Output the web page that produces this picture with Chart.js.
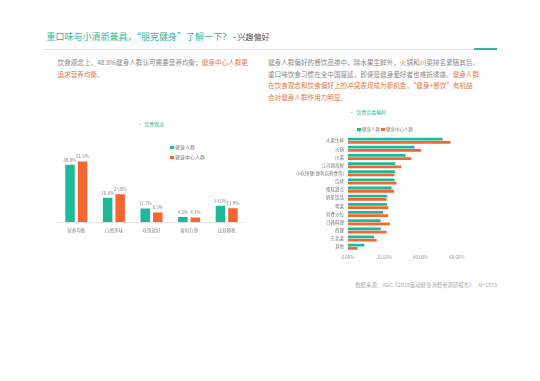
<!DOCTYPE html>
<html>
<head>
<meta charset="utf-8">
<script src="https://cdn.jsdelivr.net/npm/chart.js@4"></script>
<style>
    body { margin: 0; width: 540px; height: 381px; background: #fff; position: relative; overflow: hidden; font-family: "Noto Sans CJK SC", sans-serif; }
    .abs { position: absolute; white-space: nowrap; }
    .title { left: 46.6px; top: 31px; font-size: 9px; line-height: 12px; color: #2fb99c; }
    .title .sub { font-size: 8px; color: #555; }
    .para { font-size: 6.6px; line-height: 11.7px; color: #8a8a8a; }
    .hl { color: #e9784a; }
    .ctitle { font-size: 5px; line-height: 6px; color: #2fb99c; }
    .leg { font-size: 5px; line-height: 6px; color: #777; }
    .sq { display: inline-block; width: 3.5px; height: 3.5px; margin-right: 1.5px; vertical-align: 0px; }
    .foot { font-size: 5.4px; line-height: 7px; color: #aaa; }
    canvas { position: absolute; }
</style>
</head>
<body>
<div class="abs title">重口味与小清新兼具，“朋克健身”了解一下？<span class="sub"> - 兴趣偏好</span></div>
<div class="abs" style="left:44px;top:49px;width:453px;height:1px;background:#cdebe3;"></div>
<div class="abs" style="left:474px;top:47.5px;width:23px;height:2px;background:#2fb99c;"></div>

<div class="abs para" style="left:57.6px;top:57.2px;">饮食观念上，48.8%健身人群认可需要营养均衡；<span class="hl">健身中心人群更</span><br><span class="hl">追求营养均衡。</span></div>
<div class="abs para" style="left:268px;top:56.9px;">健身人群偏好的餐饮品类中，除水果生鲜外，火锅和川菜排名紧随其后。<br>重口味饮食习惯在全中国蔓延，即便是健身爱好者也难抵诱惑。<span class="hl">健身人群</span><br><span class="hl">在饮食观念和饮食偏好上的冲突表现成为新机会，“健身+餐饮”有机结</span><br><span class="hl">合对健身人群作用力明显。</span></div>

<div class="abs ctitle" style="left:137px;top:121px;">•&nbsp;&nbsp;饮食观念</div>
<div class="abs leg" style="left:170px;top:144px;"><span class="sq" style="background:#1fb89b"></span>健身人群</div>
<div class="abs leg" style="left:170px;top:154.3px;"><span class="sq" style="background:#f56530"></span>健身中心人群</div>

<div class="abs ctitle" style="left:349px;top:109px;">•&nbsp;&nbsp;饮食品类偏好</div>
<div class="abs leg" style="left:357px;top:126.3px;font-size:4.5px;"><span class="sq" style="background:#1fb89b"></span>健身人群&nbsp;<span class="sq" style="background:#f56530"></span>健身中心人群</div>

<div class="abs foot" style="right:43px;top:282px;">数据来源：IIGC《2018运动健身消费者调研报告》&nbsp;&nbsp;&nbsp;N=1573</div>

<canvas id="viewChart" width="220" height="110" style="left:40px;top:140px;"></canvas>
<canvas id="foodChart" width="210" height="145" style="left:280px;top:120px;"></canvas>

<script>
// series shared by both charts
const seriesNames = ['健身人群', '健身中心人群'];
const TEAL = '#1fb89b';
const ORANGE = '#f56530';

// 饮食观念 (%)
const viewCategories = ['营养均衡', '口感美味', '吃饱就好', '省时方便', '比较随机'];
const viewAll = [48.8, 20.8, 11.7, 4.5, 14.0];
const viewCenter = [51.5, 23.8, 8.3, 4.1, 11.9];

// 饮食品类偏好 (%)
const foodCategories = ['水果生鲜', '火锅', '川菜', '江河湖海鲜', '小吃快餐(便利店熟食等)', '烧烤', '蛋糕甜点', '奶茶饮品', '粤菜', '轻食沙拉', '日韩料理', '西餐', '东北菜', '其他'];
const foodAll = [52.1, 36.6, 31.7, 26.0, 26.0, 25.6, 24.0, 21.7, 21.5, 19.3, 18.0, 18.0, 14.4, 9.0];
const foodCenter = [56.4, 40.2, 34.9, 29.3, 25.6, 26.7, 25.3, 21.2, 22.2, 22.0, 23.1, 21.2, 15.8, 5.3];
const foodTicks = [0, 20, 40, 60];

Chart.defaults.font.family = '"Noto Sans CJK SC", sans-serif';

// value labels above the left bars
const barLabels = {
    id: 'barLabels',
    afterDatasetsDraw(chart) {
        const ctx = chart.ctx;
        ctx.save();
        ctx.font = '4.5px "Noto Sans CJK SC"';
        ctx.fillStyle = '#888';
        ctx.textAlign = 'center';
        ctx.textBaseline = 'bottom';
        chart.data.datasets.forEach((ds, i) => {
            chart.getDatasetMeta(i).data.forEach((bar, j) => {
                ctx.fillText(ds.data[j].toFixed(1) + '%', bar.x, bar.y - 2.5);
            });
        });
        ctx.restore();
    }
};

new Chart(document.getElementById('viewChart'), {
    type: 'bar',
    data: {
        labels: viewCategories,
        datasets: [
            { label: seriesNames[0], data: viewAll, backgroundColor: TEAL },
            { label: seriesNames[1], data: viewCenter, backgroundColor: ORANGE }
        ]
    },
    plugins: [barLabels],
    options: {
        responsive: false,
        animation: false,
        layout: { padding: { left: 17.5, right: 14.5, top: 11.5, bottom: 11.7 } },
        datasets: { bar: { categoryPercentage: 0.665, barPercentage: 0.76 } },
        plugins: { legend: { display: false }, tooltip: { enabled: false } },
        scales: {
            x: {
                grid: { display: false, drawTicks: false },
                border: { display: true, color: '#e6e6e6' },
                ticks: { font: { size: 4.5 }, color: '#888', padding: 5 },
                afterFit: s => { s.height = 16; }
            },
            y: { display: false, min: 0, max: 60 }
        }
    }
});

new Chart(document.getElementById('foodChart'), {
    type: 'bar',
    data: {
        labels: foodCategories,
        datasets: [
            { label: seriesNames[0], data: foodAll, backgroundColor: TEAL },
            { label: seriesNames[1], data: foodCenter, backgroundColor: ORANGE }
        ]
    },
    options: {
        indexAxis: 'y',
        responsive: false,
        animation: false,
        layout: { padding: { left: 4, right: 33, top: 16.6, bottom: 2.2 } },
        datasets: { bar: { categoryPercentage: 0.8, barPercentage: 0.85 } },
        plugins: { legend: { display: false }, tooltip: { enabled: false } },
        scales: {
            x: {
                min: 0,
                max: 60,
                afterBuildTicks: s => { s.ticks = foodTicks.map(v => ({ value: v })); },
                grid: { display: false, drawTicks: false },
                border: { display: false },
                ticks: { font: { size: 4.5 }, color: '#999', padding: 4, callback: v => v.toFixed(2) + '%' },
                afterFit: s => { s.height = 12; }
            },
            y: {
                grid: { display: false, drawTicks: false },
                border: { display: false },
                ticks: { font: { size: 4.5 }, color: '#777', padding: 4, autoSkip: false },
                afterFit: s => { s.width = 64; }
            }
        }
    }
});
</script>
</body>
</html>
